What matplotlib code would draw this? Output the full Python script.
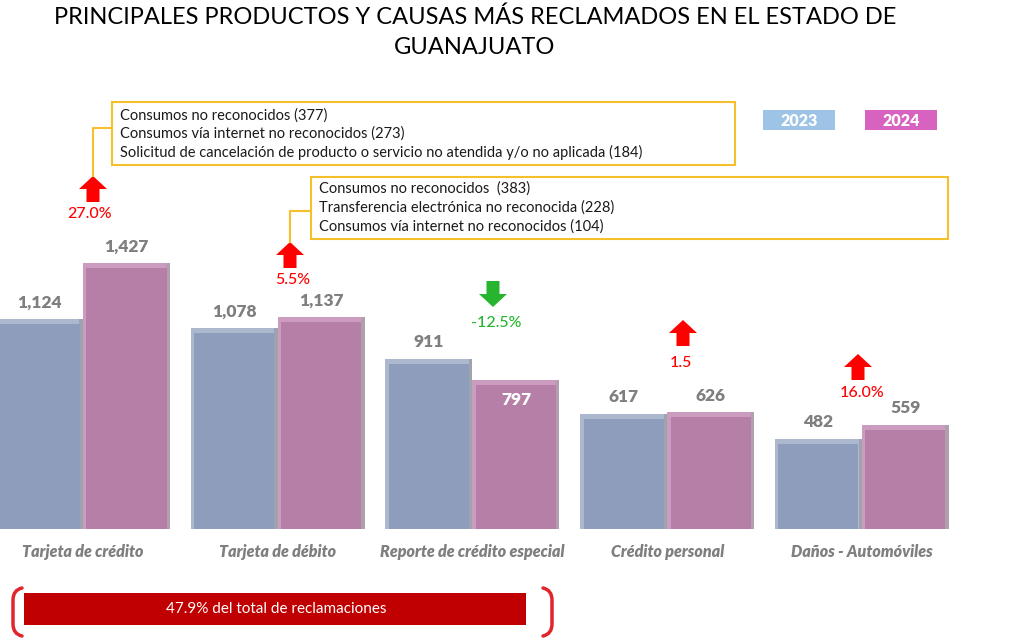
import numpy as np
import matplotlib
matplotlib.use("Agg")
import matplotlib.pyplot as plt
from matplotlib.patches import Rectangle, Polygon, PathPatch
from matplotlib.path import Path

plt.rcParams['font.family'] = ['Lato', 'DejaVu Sans']

# data
categories = ["Tarjeta de crédito", "Tarjeta de débito", "Reporte de crédito especial",
              "Crédito personal", "Daños - Automóviles"]
years = ["2023", "2024"]
values_2023 = [1124, 1078, 911, 617, 482]
values_2024 = [1427, 1137, 797, 626, 559]
change_labels = ["27.0%", "5.5%", "-12.5%", "1.5", "16.0%"]

causes_credito = ["Consumos no reconocidos (377)",
                  "Consumos vía internet no reconocidos (273)",
                  "Solicitud de cancelación de producto o servicio no atendida y/o no aplicada (184)"]
causes_debito = ["Consumos no reconocidos  (383)",
                 "Transferencia electrónica no reconocida (228)",
                 "Consumos vía internet no reconocidos (104)"]
share_text = "47.9% del total de reclamaciones"

# colours
c23, c24 = "#8e9dbb", "#b67fa8"
c23_top, c24_top = "#abb8ce", "#cc9cc0"
c23_side, c24_side = "#9ea4ae", "#b0a0ad"
leg23, leg24 = "#9dc3e6", "#d862c0"
red, green = "#ff0000", "#27b52f"
label_gray = "#7f7f7f"
box_yellow = "#f5c02c"

W, H = 1025, 639
fig = plt.figure(figsize=(W / 100, H / 100), dpi=100)

# bar axes, bottom of bars at pixel 529
base_px = 529
px_per_unit = 0.1865
ax = fig.add_axes([0, (H - base_px) / H, 1, base_px / H])
spacing = 194.75
first_center = 83
ax.set_xlim(-first_center / spacing, (W - first_center) / spacing)
ax.set_ylim(0, base_px / px_per_unit)
for s in ax.spines.values():
    s.set_visible(False)
ax.set_yticks([])

x = np.arange(len(categories))
w = 87 / spacing
v23 = np.array(values_2023)
v24 = np.array(values_2024)

# bevelled bars: side shade, top highlight, then the face
bev_x = 3.5 / spacing
bev_y = 5 / px_per_unit
ax.bar(x - w / 2, v23, w, color=c23_side, linewidth=0)
ax.bar(x + w / 2, v24, w, color=c24_side, linewidth=0)
ax.bar(x - w / 2 - bev_x / 2, v23, w - bev_x, color=c23_top, linewidth=0)
ax.bar(x + w / 2 - bev_x / 2, v24, w - bev_x, color=c24_top, linewidth=0)
ax.bar(x - w / 2, v23 - bev_y, w - 2 * bev_x, color=c23, linewidth=0)
ax.bar(x + w / 2, v24 - bev_y, w - 2 * bev_x, color=c24, linewidth=0)

ax.set_xticks(x, categories)
ax.tick_params(axis="x", length=0, pad=11)
for t in ax.get_xticklabels():
    t.set_fontstyle("italic")
    t.set_fontweight("heavy")
    t.set_color(label_gray)
    t.set_fontsize(11.5)

for i in range(len(categories)):
    ax.annotate(f"{values_2023[i]:,}", (x[i] - w / 2, values_2023[i]), xytext=(0, 12),
                textcoords="offset points", ha="center", va="center",
                fontsize=12.5, fontweight="heavy", color=label_gray)
    if values_2024[i] < values_2023[i]:
        ax.annotate(f"{values_2024[i]:,}", (x[i] + w / 2, values_2024[i]), xytext=(0, -14),
                    textcoords="offset points", ha="center", va="center",
                    fontsize=12.5, fontweight="heavy", color="white")
    else:
        ax.annotate(f"{values_2024[i]:,}", (x[i] + w / 2, values_2024[i]), xytext=(0, 12),
                    textcoords="offset points", ha="center", va="center",
                    fontsize=12.5, fontweight="heavy", color=label_gray)

# overlay in pixel coordinates for decorations
ov = fig.add_axes([0, 0, 1, 1], zorder=5)
ov.set_xlim(0, W)
ov.set_ylim(H, 0)
ov.axis("off")
ov.patch.set_alpha(0)

ov.text(475, 17, "PRINCIPALES PRODUCTOS Y CAUSAS MÁS RECLAMADOS EN EL ESTADO DE",
        ha="center", va="center", fontsize=17, color="black")
ov.text(475, 48, "GUANAJUATO", ha="center", va="center", fontsize=17, color="black")

# legend
for lx, col, yr in [(763, leg23, years[0]), (865, leg24, years[1])]:
    ov.add_patch(Rectangle((lx, 110), 72, 20, color=col, lw=0))
    ov.text(lx + 36, 120.5, yr, ha="center", va="center", color="white",
            fontsize=11.5, fontweight="heavy")


def arrow(cx, top, color, up=True, hw=14, sw=6.5, hh=13, total=26):
    if up:
        pts = [(cx, top), (cx + hw, top + hh), (cx + sw, top + hh), (cx + sw, top + total),
               (cx - sw, top + total), (cx - sw, top + hh), (cx - hw, top + hh)]
    else:
        tip = top + total
        pts = [(cx, tip), (cx + hw, tip - hh), (cx + sw, tip - hh), (cx + sw, top),
               (cx - sw, top), (cx - sw, tip - hh), (cx - hw, tip - hh)]
    ov.add_patch(Polygon(pts, closed=True, color=color, lw=0))


arrow_pos = [(93, 176), (290, 242), (493, 281), (683, 320), (858, 354)]
label_pos = [(90, 214), (293, 280), (496, 323), (681, 363), (862, 393)]
for i in range(len(categories)):
    up = values_2024[i] >= values_2023[i]
    col = red if up else green
    arrow(arrow_pos[i][0], arrow_pos[i][1], col, up)
    ov.text(label_pos[i][0], label_pos[i][1], change_labels[i], ha="center", va="center",
            color=col, fontsize=11.5, fontweight="medium")

# cause boxes
def cause_box(x0, y0, x1, y1, lines, line_y, conn_y, arrow_x, arrow_top):
    ov.add_patch(Rectangle((x0, y0), x1 - x0, y1 - y0, fill=False, ec=box_yellow, lw=1.5))
    for ly, txt in zip(line_y, lines):
        ov.text(x0 + 8, ly, txt, ha="left", va="center", fontsize=10.5, color="#1a1a1a")
    ov.plot([x0, arrow_x, arrow_x], [conn_y, conn_y, arrow_top], color=box_yellow, lw=1.5)


cause_box(112, 102, 735, 165, causes_credito, [116, 134, 152], 128, 93, 176)
cause_box(311, 177, 948, 239, causes_debito, [189, 208, 227], 211, 290, 242)

# bottom banner
ov.add_patch(Rectangle((24, 593), 502, 32, color="#c00000", lw=0))
ov.text(276, 609, share_text, ha="center", va="center", color="white", fontsize=11)
br = "#e0252b"
left = Path([(22, 588), (13, 590), (13, 600), (13, 624), (13, 634), (22, 636)],
            [Path.MOVETO, Path.CURVE3, Path.CURVE3, Path.LINETO, Path.CURVE3, Path.CURVE3])
right = Path([(543, 588), (552, 590), (552, 600), (552, 624), (552, 634), (543, 636)],
             [Path.MOVETO, Path.CURVE3, Path.CURVE3, Path.LINETO, Path.CURVE3, Path.CURVE3])
for p in (left, right):
    ov.add_patch(PathPatch(p, fill=False, ec=br, lw=2.5, capstyle="round"))

fig.savefig("out.png", dpi=100)
